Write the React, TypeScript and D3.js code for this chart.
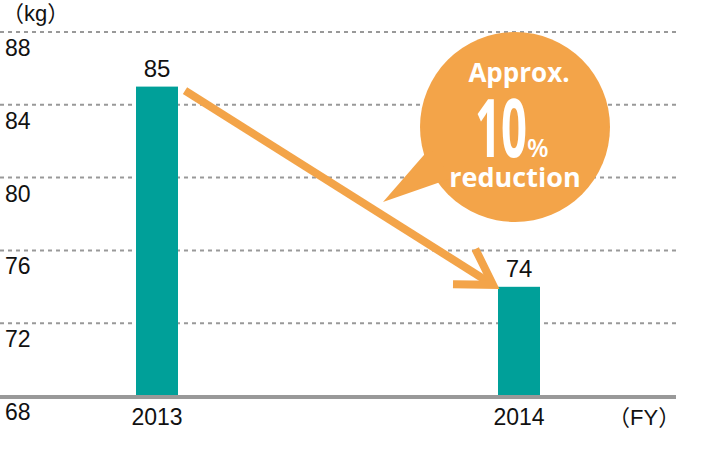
import * as d3 from "d3";

const years = ["2013", "2014"];
const values = [85, 74];
const yTicks = [68, 72, 76, 80, 84, 88];

const W = 702;
const H = 452;
const teal = "#00a099";
const orange = "#f3a449";
const grid = "#999999";
const numFont = "'Liberation Sans', Arial, sans-serif";
const bubbleFont = "'Open Sans', 'Noto Sans', sans-serif";

const y = d3.scaleLinear().domain([68, 88]).range([396, 32]);
const x = d3.scalePoint<string>().domain(years).range([157, 519]);
const barW = 42;

export default function App() {
  const x0 = x(years[0])!;
  const x1 = x(years[1])!;
  // arrow from top-right of first bar to top-left of second
  const ax0 = x0 + barW / 2 + 7;
  const ay0 = y(values[0]) + 4;
  const ax1 = x1 - barW / 2 - 5;
  const ay1 = y(values[1]) - 2;
  const ang = Math.atan2(ay1 - ay0, ax1 - ax0);
  const headLen = 40;
  const spread = 0.55;
  const h1 = [ax1 - headLen * Math.cos(ang - spread), ay1 - headLen * Math.sin(ang - spread)];
  const h2 = [ax1 - headLen * Math.cos(ang + spread), ay1 - headLen * Math.sin(ang + spread)];

  const cx = 515;
  const cy = 127;
  const r = 95;

  return (
    <svg width={W} height={H} style={{ position: "absolute", left: 0, top: 0 }}>
      <rect width={W} height={H} fill="#fff" />
      {yTicks.slice(1).map((t) => (
        <line
          key={t}
          x1={0}
          x2={676}
          y1={y(t)}
          y2={y(t)}
          stroke={grid}
          strokeWidth={2}
          strokeDasharray="4 4"
        />
      ))}
      {yTicks.map((t) => (
        <text key={"l" + t} x={5} y={y(t) + 24} fontFamily={numFont} fontSize={23} fill="#111">
          {t}
        </text>
      ))}
      <text x={2} y={21} fontFamily={numFont} fontSize={22} fill="#111">
        <tspan fontFamily="'Noto Sans CJK JP'">（</tspan>kg<tspan fontFamily="'Noto Sans CJK JP'">）</tspan>
      </text>

      {years.map((yr, i) => (
        <g key={yr}>
          <rect
            x={x(yr)! - barW / 2}
            y={y(values[i])}
            width={barW}
            height={y(68) - y(values[i])}
            fill={teal}
          />
          <text
            x={x(yr)!}
            y={y(values[i]) - 10}
            textAnchor="middle"
            fontFamily={numFont}
            fontSize={24}
            fill="#111"
          >
            {values[i]}
          </text>
          <text x={x(yr)!} y={425} textAnchor="middle" fontFamily={numFont} fontSize={23} fill="#111">
            {yr}
          </text>
        </g>
      ))}
      <line x1={0} x2={676} y1={y(68) + 1} y2={y(68) + 1} stroke={grid} strokeWidth={4} />
      <text x={608} y={425} fontFamily={numFont} fontSize={22} fill="#111">
        <tspan fontFamily="'Noto Sans CJK JP'">（</tspan>FY<tspan fontFamily="'Noto Sans CJK JP'">）</tspan>
      </text>

      <g stroke={orange} strokeWidth={8} fill="none" strokeLinecap="butt" strokeLinejoin="miter">
        <line x1={ax0} y1={ay0} x2={ax1} y2={ay1} />
        <polyline points={`${h1[0]},${h1[1]} ${ax1},${ay1} ${h2[0]},${h2[1]}`} />
      </g>

      <g fill={orange}>
        <circle cx={cx} cy={cy} r={r} />
        <polygon points="430,148 383,202 452,178" />
      </g>
      <g fill="#fff" fontFamily={bubbleFont} fontWeight={700} textAnchor="middle">
        <text x={519} y={82} fontSize={26}>
          Approx.
        </text>
        <text
          x={475}
          y={157}
          fontSize={80}
          textAnchor="start"
          textLength={52}
          lengthAdjust="spacingAndGlyphs"
        >
          10
        </text>
        <text x={527} y={157} fontSize={25} textAnchor="start" fontWeight={600}>
          %
        </text>
        <text x={515} y={187} fontSize={27}>
          reduction
        </text>
      </g>
    </svg>
  );
}
